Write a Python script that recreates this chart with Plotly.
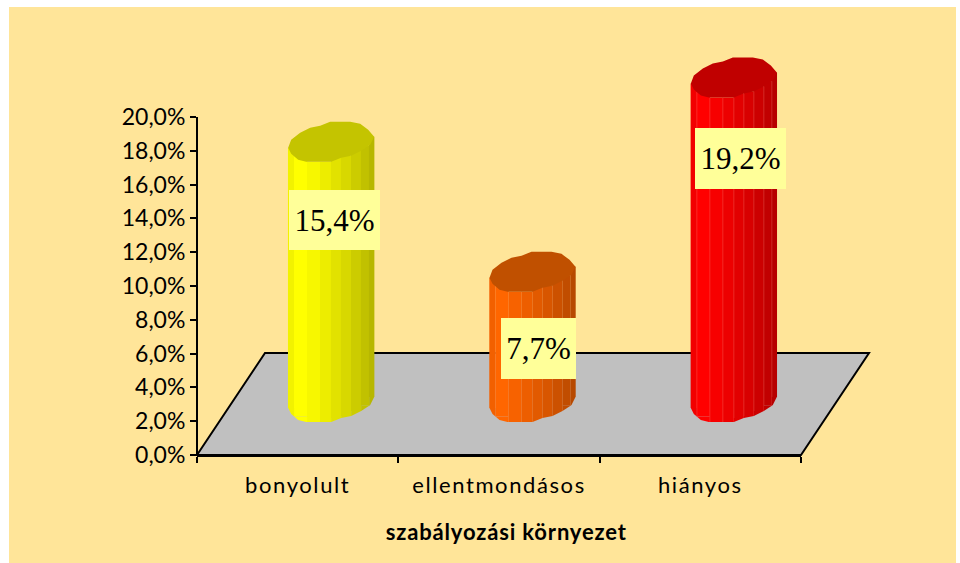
import numpy as np
import plotly.graph_objects as go

categories = ["bonyolult", "ellentmondásos", "hiányos"]
values = [15.4, 7.7, 19.2]
y_ticks = [0, 2, 4, 6, 8, 10, 12, 14, 16, 18, 20]
y_labels = ["0,0%", "2,0%", "4,0%", "6,0%", "8,0%", "10,0%", "12,0%", "14,0%", "16,0%", "18,0%", "20,0%"]
x_title = "szabályozási környezet"

body_colors = [(255, 255, 0), (255, 102, 0), (255, 0, 0)]
lid_colors = ["#C4C400", "#C05000", "#C00000"]
seam_colors = [None, "rgba(255,190,140,0.16)", "rgba(255,170,150,0.25)"]
label_boxes = [(289, 380, 190, 250), (501, 576, 318, 379), (695, 786, 128, 189)]  # px

strip_edges = np.array([0, 6, 19, 32, 43, 53, 63, 73, 81, 86], float)
strip_shade = [0.95, 1.0, 0.97, 0.93, 0.89, 0.85, 0.80, 0.76, 0.72]
low_x = [0, 3, 10, 18, 43, 53, 63, 73, 82, 86]
low_y = [0, 6, 12, 14, 14, 10, 8, 3, -3, -11]
up_x = [0, 3, 12, 22, 32, 42, 62, 72, 80, 86]
up_y = [0, -8, -15, -20, -22, -26, -26, -24, -18, -11]

L, R, AXIS_TOP, B = 197, 801, 117, 455
PLOT_TOP = 50
PX_X = (R - L) / 3
PX_Y = (B - AXIS_TOP) / 20
Y_MAX = (B - PLOT_TOP) / PX_Y
FOOT_Y = (B - 408) / PX_Y      # y of the cylinder's left foot, in axis units
LEFT_OFF = -9.5 / PX_X


def px2x(p):
    return (p - L) / (R - L)


def px2y(p):
    return (B - p) / (B - PLOT_TOP)


def lo(rel):
    return np.interp(rel, low_x, low_y)


fig = go.Figure()

for i, (cat, val) in enumerate(zip(categories, values)):
    left = i + 0.5 + LEFT_OFF
    xs, bases, widths, cols = [], [], [], []
    for j in range(len(strip_shade)):
        a, b = strip_edges[j], strip_edges[j + 1]
        rel = np.unique(np.concatenate([[a, b], [p for p in low_x if a < p < b]]))
        dy = lo(rel)
        top_px = dy.min()
        base = FOOT_Y - top_px / PX_Y
        s = strip_shade[j]
        col = "rgb(%d,%d,%d)" % tuple(int(c * s) for c in body_colors[i])
        xs.append(left + (a + b) / 2 / PX_X)
        widths.append((b - a + 0.4) / PX_X)
        bases.append(base)
        cols.append(col)
        cx = list(left + rel / PX_X) + [left + b / PX_X, left + a / PX_X]
        cy = list(FOOT_Y - dy / PX_Y) + [base, base]
        fig.add_trace(go.Scatter(x=cx, y=cy, mode="lines", fill="toself", fillcolor=col,
                                 line=dict(width=0), hoverinfo="skip"))
    if seam_colors[i]:
        for e in strip_edges[1:-1]:
            xs.append(left + e / PX_X)
            widths.append(1 / PX_X)
            bases.append(FOOT_Y - lo(e) / PX_Y)
            cols.append(seam_colors[i])
    fig.add_trace(go.Bar(x=xs, y=[val] * len(xs), base=bases, width=widths,
                         marker=dict(color=cols, line=dict(width=0)),
                         name=cat, hoverinfo="skip"))
    lid_rel_x = list(up_x) + list(low_x)[::-1][1:]
    lid_rel_y = list(up_y) + list(low_y)[::-1][1:]
    fig.add_trace(go.Scatter(
        x=[left + p / PX_X for p in lid_rel_x],
        y=[FOOT_Y + val - p / PX_Y for p in lid_rel_y],
        mode="lines", fill="toself", fillcolor=lid_colors[i],
        line=dict(width=0), hoverinfo="skip"))

shapes = [
    dict(type="rect", xref="paper", yref="paper", layer="below",
         x0=px2x(9), x1=px2x(956), y0=px2y(563), y1=px2y(7),
         fillcolor="#FFE599", line=dict(width=0)),
    dict(type="path", xref="paper", yref="paper", layer="below",
         path="M 0 0 L {a} {b} L {c} {b} L 1 0 Z".format(
             a=px2x(265), b=px2y(353), c=px2x(869)),
         fillcolor="#C0C0C0", line=dict(color="black", width=2)),
    dict(type="line", xref="paper", yref="paper", layer="above",
         x0=0, x1=0, y0=0, y1=px2y(AXIS_TOP), line=dict(color="black", width=2)),
]

annotations = []
for val, (x0, x1, y0, y1) in zip(values, label_boxes):
    annotations.append(dict(
        x=px2x((x0 + x1) / 2), y=px2y((y0 + y1) / 2), xref="paper", yref="paper",
        xanchor="center", yanchor="middle",
        text=f"{val:.1f}%".replace(".", ","), showarrow=False,
        width=x1 - x0, height=y1 - y0, bgcolor="#FFFF99", borderpad=0, borderwidth=0,
        font=dict(family="Liberation Serif", size=31, color="black"),
        align="center", valign="middle"))
annotations.append(dict(
    x=px2x(506), y=px2y(531.5), xref="paper", yref="paper", xanchor="center", yanchor="middle",
    text="<b>%s</b>" % x_title,
    showarrow=False, font=dict(family="Lato", size=22, color="black")))

fig.update_layout(
    width=960, height=563, autosize=False, showlegend=False,
    margin=dict(l=L, r=960 - R, t=PLOT_TOP, b=563 - B, pad=0),
    paper_bgcolor="white", plot_bgcolor="rgba(0,0,0,0)",
    barmode="overlay", shapes=shapes, annotations=annotations,
    xaxis=dict(range=[0, 3], tickmode="array", tickvals=[0.5, 1.5, 2.5], ticktext=categories,
               ticks="", showgrid=False, zeroline=False, showline=True, linecolor="black",
               linewidth=2, fixedrange=True, ticklabelstandoff=10,
               tickfont=dict(family="Lato", size=22, color="black"),
               minor=dict(tickmode="array", tickvals=[0, 1, 2, 3], ticks="outside",
                          ticklen=6, tickwidth=2, tickcolor="black", showgrid=False)),
    yaxis=dict(range=[0, Y_MAX], tickmode="array", tickvals=y_ticks, ticktext=y_labels,
               ticks="outside", ticklen=6, tickwidth=2, tickcolor="black",
               showgrid=False, zeroline=False, showline=False,
               fixedrange=True, tickfont=dict(family="Lato", size=23, color="black")),
)

fig.write_html("out.html", config=dict(displayModeBar=False),
               post_script="document.body.style.margin='0';document.body.style.overflow='hidden';"
                           "document.querySelectorAll('.xtick text').forEach(function(t){t.style.letterSpacing='1.6px';});"
                           "document.querySelectorAll('.annotation-text').forEach(function(t){"
                           "if(t.textContent.indexOf('szab')===0){t.style.letterSpacing='0.85px';}});")
